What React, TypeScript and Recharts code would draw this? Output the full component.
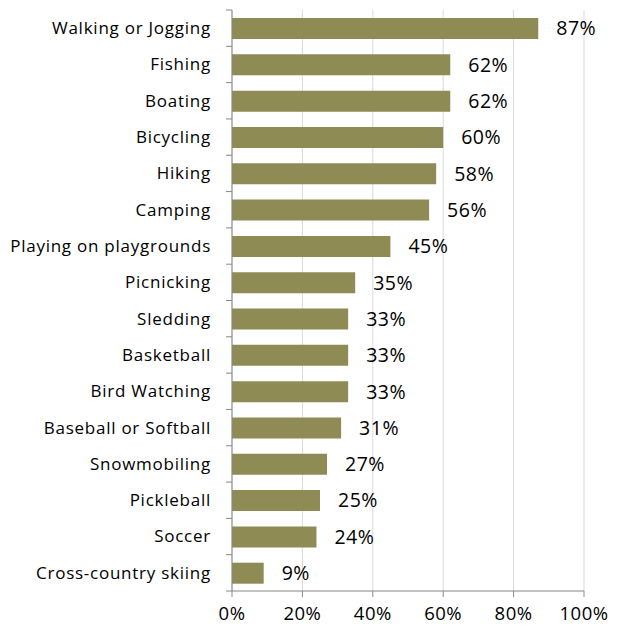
import React from "react";
import { BarChart, Bar, XAxis, YAxis, CartesianGrid, LabelList } from "recharts";

const activities = [
  "Walking or Jogging",
  "Fishing",
  "Boating",
  "Bicycling",
  "Hiking",
  "Camping",
  "Playing on playgrounds",
  "Picnicking",
  "Sledding",
  "Basketball",
  "Bird Watching",
  "Baseball or Softball",
  "Snowmobiling",
  "Pickleball",
  "Soccer",
  "Cross-country skiing",
];
const shares = [87, 62, 62, 60, 58, 56, 45, 35, 33, 33, 33, 31, 27, 25, 24, 9];
const xTicks = [0, 20, 40, 60, 80, 100];

const data = activities.map((name, i) => ({ name, value: shares[i] }));

const W = 605;
const H = 619;
const margin = { top: 2, right: 29, left: 0, bottom: 0 };
const yAxisWidth = 224;
const xAxisHeight = 36;
const plotH = H - margin.top - margin.bottom - xAxisHeight;
const band = plotH / activities.length;
const axisColor = "#878787";
const font = "'Open Sans', sans-serif";

function CategoryTick(props: any) {
  const { x, y, payload, index } = props;
  const ax = margin.left + yAxisWidth;
  return (
    <g>
      <line x1={ax - 6} x2={ax} y1={y - band / 2} y2={y - band / 2} stroke={axisColor} />
      {index === activities.length - 1 && (
        <line x1={ax - 6} x2={ax} y1={y + band / 2} y2={y + band / 2} stroke={axisColor} />
      )}
      <text
        x={x}
        y={y}
        dy="0.35em"
        textAnchor="end"
        fill="#000"
        fontSize={17}
        letterSpacing={0.75}
        fontFamily={font}
      >
        {payload.value}
      </text>
    </g>
  );
}

export default function App() {
  return (
    <BarChart width={W} height={H} data={data} layout="vertical" margin={margin}>
      <CartesianGrid horizontal={false} stroke="#d9d9d9" />
      <XAxis
        type="number"
        domain={[0, 100]}
        ticks={xTicks}
        height={xAxisHeight}
        tickFormatter={(v) => `${v}%`}
        stroke={axisColor}
        tickSize={6}
        tickMargin={10}
        tick={{ fill: "#000", fontSize: 18.5, fontFamily: font, letterSpacing: 0.5 }}
        interval={0}
      />
      <YAxis
        type="category"
        dataKey="name"
        width={yAxisWidth}
        stroke={axisColor}
        tickLine={false}
        tickSize={6}
        tickMargin={15}
        interval={0}
        tick={<CategoryTick />}
      />
      <Bar dataKey="value" fill="#8e8b54" barSize={21} isAnimationActive={false}>
        <LabelList
          dataKey="value"
          position="right"
          offset={18}
          formatter={(v: any) => `${v}%`}
          style={{ fill: "#000", fontSize: 19.5, fontFamily: font, letterSpacing: 0.5 }}
        />
      </Bar>
    </BarChart>
  );
}
